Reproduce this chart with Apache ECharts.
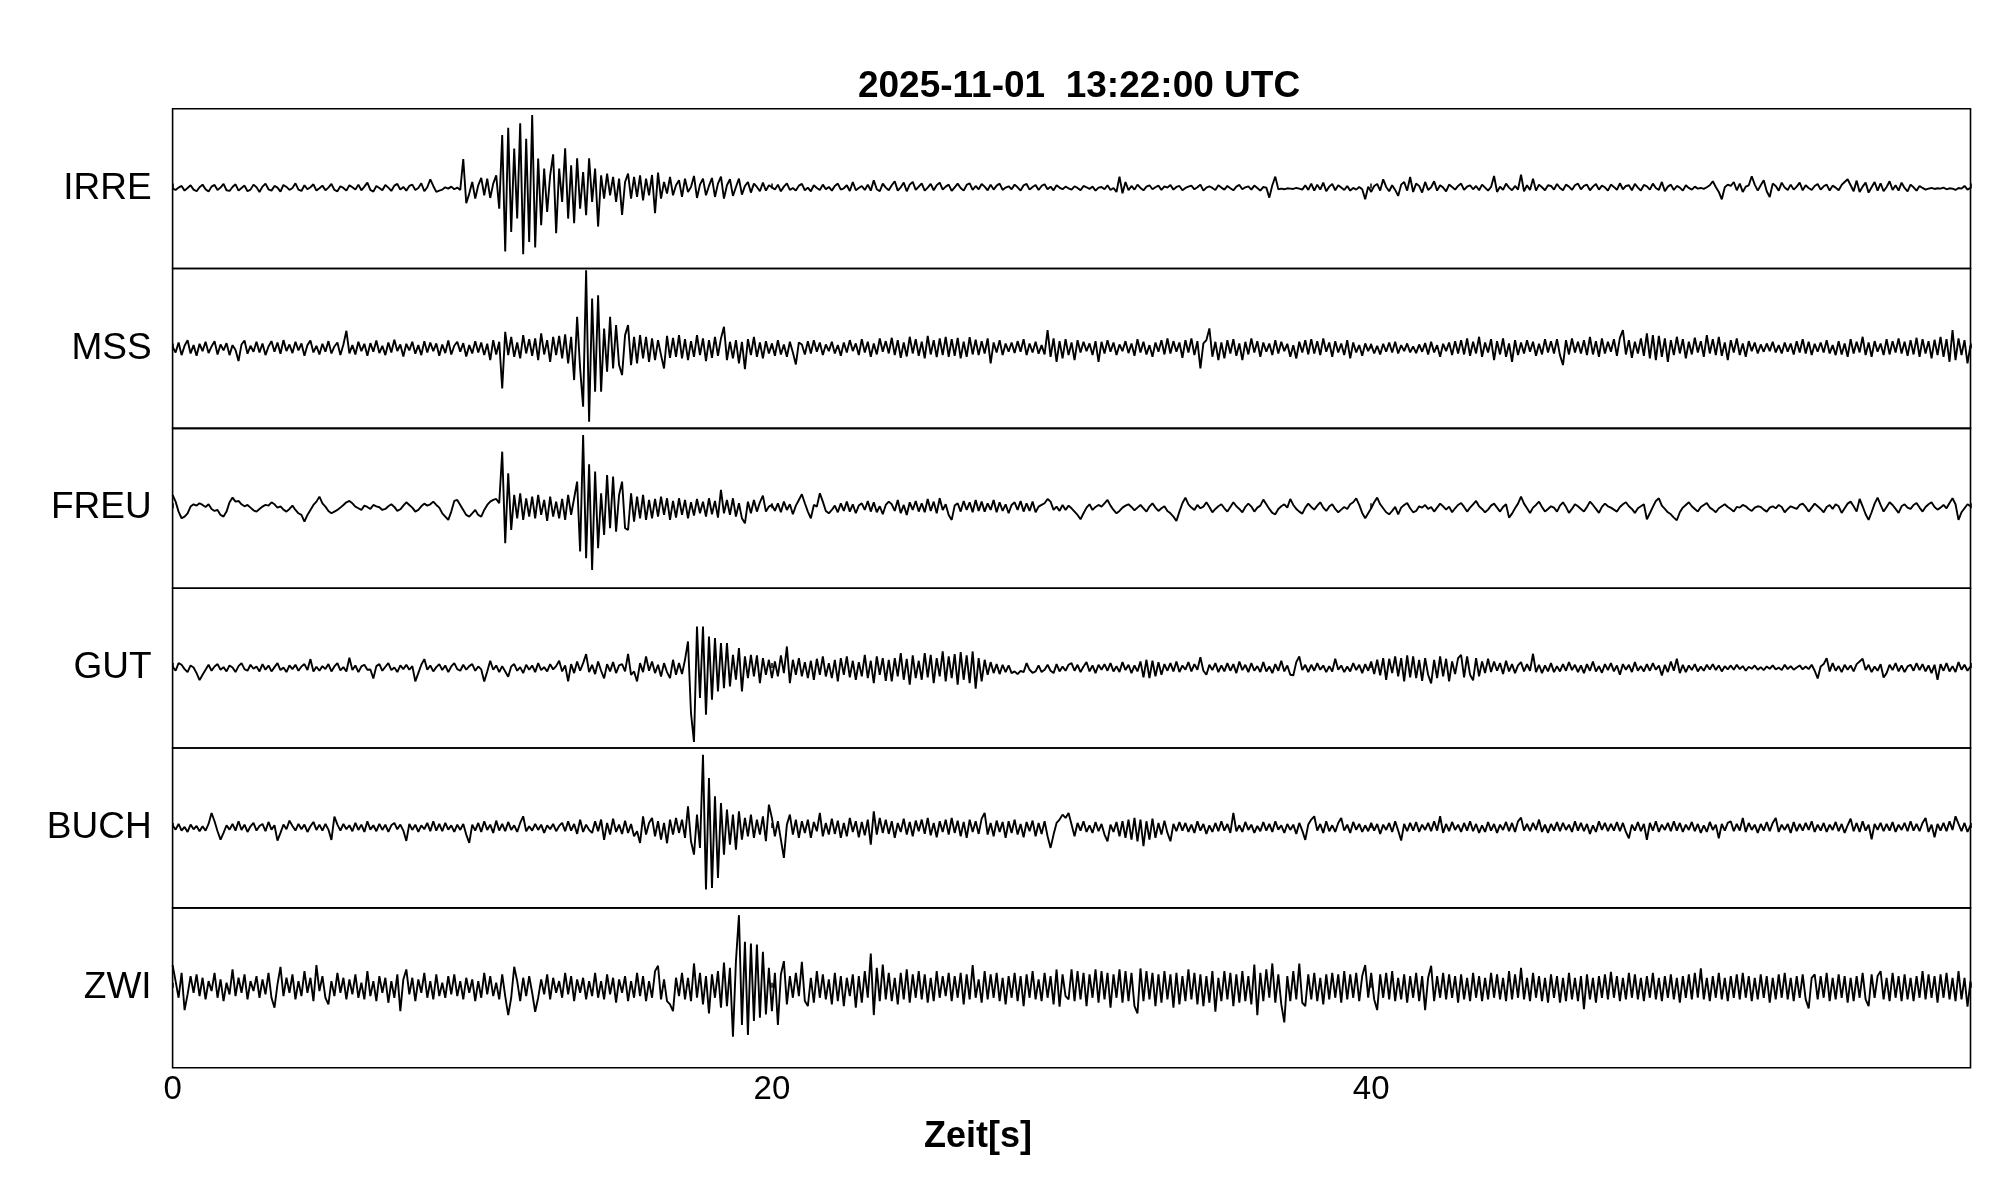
<!DOCTYPE html>
<html><head><meta charset="utf-8">
<script src="https://cdn.jsdelivr.net/npm/echarts@6/dist/echarts.min.js"></script>
<style>html,body{margin:0;padding:0;background:#fff}#c{width:2005px;height:1202px}</style>
</head><body><div id="c"></div>
<script>
const TITLE = '2025-11-01  13:22:00 UTC';
const X_NAME = 'Zeit[s]';
const STATIONS = ['IRRE', 'MSS', 'FREU', 'GUT', 'BUCH', 'ZWI'];
const SAMPLE_INTERVAL = 0.1; // seconds between samples
const X_TICKS = [0, 20, 40];

const IRRE = [
0,-4,3,8,-6,2,10,-3,-8,4,
12,-2,-9,6,11,-4,3,14,-5,-7,
5,13,-6,2,9,-8,-3,12,4,-10,
6,15,-2,-6,8,3,-9,11,5,-4,
2,16,-3,-7,10,-2,4,13,-6,1,
9,-5,3,14,-4,-8,7,2,-6,10,
4,-3,12,-5,6,18,-4,-9,8,2,
-5,11,3,-7,9,14,-3,5,-6,8,
12,-4,2,16,-8,4,28,8,-10,-6,
-3,4,0,6,-2,3,-4,89,-44,-15,
20,-30,10,32,-20,30,-28,15,40,-60,
161,-189,183,-130,120,-90,196,-197,150,-160,
221,-177,90,-110,60,-70,40,103,-134,60,
-40,121,-90,70,-104,91,-60,50,-80,91,
-40,60,-114,40,-30,45,-20,35,-40,30,
-79,20,45,-30,35,-25,40,-35,30,-20,
41,-74,48,-30,20,-15,35,-20,10,25,
-25,30,-10,5,38,-28,12,30,-20,8,
32,-25,15,36,-30,10,28,-22,5,30,
-18,8,20,-12,15,5,-8,18,-6,10,
4,-3,12,-8,6,16,-4,2,-6,9,
14,-5,3,-8,10,2,-4,12,-2,5,
-6,8,15,-3,1,10,-7,20,-5,2,
8,-4,12,-6,25,-2,-8,15,3,-5,
10,22,-6,4,18,-8,12,20,-4,6,
16,-6,3,14,-5,10,18,-3,6,12,
-7,4,15,2,-6,11,16,-4,8,-2,
14,6,-5,12,-3,9,15,-4,3,7,
-2,12,4,-6,10,14,-3,5,11,-4,
8,13,-2,6,-5,10,3,-2,6,1,
-3,7,2,-5,8,4,-1,6,-6,3,
5,-2,10,-4,2,-10,36,-14,20,-5,
8,-3,12,2,-5,6,10,-2,4,9,
-4,7,3,11,-3,5,8,-5,2,6,
9,-2,4,12,-6,3,7,2,-4,10,
3,-3,8,1,-5,6,11,-2,4,7,
-3,9,2,-6,5,3,-27,10,36,-2,
0,-2,1,0,-1,2,0,-3,10,-4,
15,-6,12,-3,18,-8,6,14,-5,10,
3,-4,8,-6,2,-3,5,-2,-32,6,
-10,8,14,-6,28,5,-8,10,-4,-22,
12,20,-6,35,-10,15,8,-12,20,-4,
4,22,-6,10,3,-8,12,5,-3,8,
15,-4,6,10,-2,8,-5,12,3,-6,
5,38,-10,6,-4,15,3,-5,8,-3,
42,-8,10,-4,30,-6,12,4,-5,10,
8,-3,14,2,-5,12,6,-4,10,15,
-2,8,12,-5,6,14,-3,9,4,-6,
12,5,-4,16,-2,8,10,-5,14,3,
-6,11,7,-3,15,2,-4,20,-8,6,
12,-4,8,3,-6,10,2,-3,6,0,
2,-1,4,10,22,5,-10,-32,4,12,
8,20,-5,15,-10,6,10,37,12,-6,
10,25,-8,-25,15,8,-6,18,3,-4,
12,-3,6,18,-5,10,2,-4,8,14,
-3,7,12,-6,9,3,-5,11,20,28,
10,-8,24,-10,6,18,-12,4,20,-6,
16,-8,5,22,-4,10,-6,18,2,-8,
12,4,-6,8,2,-3,0,2,-1,1,
0,3,-2,1,0,-4,2,0,8,-3,
2];

const MSS = [
5,-12,18,-20,8,25,-15,10,-22,14,
-8,20,-14,6,22,-18,12,-6,16,-20,
10,-5,-38,12,24,-16,8,-10,20,-12,
15,-20,6,22,-10,18,-16,25,-8,12,
-14,20,-6,15,-22,10,24,-12,8,-18,
14,-10,22,-15,6,18,-20,12,53,-15,
10,-18,20,-8,14,-22,16,-10,24,-14,
8,-20,18,-12,26,-8,12,-24,14,-6,
20,-16,10,-20,22,-12,18,-8,15,-22,
12,-14,24,-18,8,20,-10,16,-24,10,
-15,22,-12,18,-20,14,-35,25,-18,20,
-120,50,-20,35,-25,18,-30,40,-15,28,
-22,30,-35,45,-18,25,-40,35,-20,38,
-30,42,-45,35,-95,95,-60,-175,235,-220,
150,-130,160,-130,60,-70,95,-60,70,-50,
-80,40,70,-50,35,-45,40,-30,35,-40,
30,-35,25,-20,-60,38,-28,32,-25,40,
-30,28,-35,22,-25,40,-20,30,-38,25,
-28,35,-22,30,65,-35,20,-30,25,-45,
20,-62,28,-20,35,-25,18,-30,22,-15,
15,-22,25,-18,12,-25,20,-12,-48,18,
12,-18,22,-15,25,-10,18,-20,12,-8,
20,-15,10,-22,18,-12,25,-8,15,-20,
28,-12,20,-25,15,-18,30,-10,22,-15,
32,-20,25,-28,18,-24,35,-15,28,-22,
20,-30,38,-18,25,-26,30,-20,35,-25,
28,-22,32,-30,20,-25,34,-18,26,-20,
22,-15,30,-45,18,-12,25,-20,15,-10,
18,-14,22,-10,28,-20,15,-12,20,-16,
10,-18,55,-25,30,-40,22,-30,28,-20,
18,-35,25,-12,20,-8,15,-20,22,-40,
20,-15,25,-10,18,-20,12,-8,22,-14,
15,-22,28,-12,20,-18,10,-25,18,-10,
25,-18,30,-15,22,-10,18,-28,25,-12,
30,-20,22,-60,15,25,60,-25,20,-35,
18,-30,25,-15,28,-22,15,-35,20,-18,
30,-12,22,-25,18,-10,15,-20,25,-15,
20,-8,14,-25,10,-30,20,-12,25,-18,
28,-15,22,-20,30,-10,18,-25,22,-12,
15,-20,25,-30,18,-12,10,-22,15,-8,
12,-15,8,-18,14,-10,18,-12,20,-15,
10,-8,15,-12,6,-14,12,-10,16,-18,
20,-12,10,-25,14,-8,18,-20,22,-15,
25,-18,30,-22,20,-15,35,-25,18,-12,
28,-35,22,-18,30,-25,15,-40,25,-20,
18,-15,25,-10,20,-22,14,-18,28,-12,
22,-15,28,-20,-50,25,-18,30,-12,20,
-15,25,-20,35,-18,22,-25,30,-15,20,
-10,28,-22,32,55,-18,25,-28,20,-15,
30,-22,45,-30,40,-35,38,-25,30,-40,
25,-20,35,-15,28,-30,20,-18,32,-12,
22,-25,40,-15,28,-20,35,-22,18,-35,
25,-12,30,-20,15,-25,22,-8,18,-15,
12,-10,15,-8,20,-12,10,-15,18,-10,
15,-18,22,-12,28,-15,20,-20,14,-10,
18,-12,25,-15,10,-20,22,-18,15,-25,
28,-15,20,-12,35,-20,18,-25,22,-10,
15,-20,28,-18,22,-12,30,-15,20,-22,
25,-18,32,-25,28,-15,22,-30,26,-20,
35,-25,28,-40,55,-35,30,-20,25,-45,
10];

const FREU = [
40,20,-10,-30,-25,-15,5,12,8,15,
10,4,12,-2,-8,-5,-20,-25,-10,18,
32,20,22,12,6,10,2,-6,-10,-2,
5,10,8,18,12,2,6,-4,-10,-2,
8,-5,-15,-20,-40,-20,-5,10,20,35,
15,5,-8,-15,-10,-5,2,10,18,22,
15,5,0,-5,8,4,-2,10,6,3,
-5,-2,6,12,4,-8,-3,8,18,10,
2,-10,-5,6,14,8,12,20,10,2,
-15,-25,-35,-10,22,25,10,-5,-20,-25,
-15,-5,-20,-25,-5,10,20,25,28,15,
170,-105,105,-65,40,-30,45,-35,30,-25,
35,-30,40,-20,25,-38,35,-25,20,-30,
28,-35,40,-20,30,80,-130,220,-150,132,
-185,110,-120,45,-80,100,-60,95,-70,40,
80,-60,-65,45,-40,35,-30,40,-35,25,
-30,28,-25,35,-20,30,-35,22,-28,30,
-20,25,-30,18,-22,28,-15,20,-25,30,
-18,22,-28,55,-15,25,-20,30,-25,15,
-30,-45,20,-15,25,-10,18,38,-10,5,
10,-8,15,-12,20,-5,12,-18,8,25,
42,15,-10,-30,10,5,45,20,-8,-15,
-5,8,-12,15,-8,20,-10,12,-15,8,
15,-5,22,-10,18,-12,6,-18,10,20,
12,-8,25,-15,10,-20,18,-5,22,-10,
15,-12,28,-8,20,-15,30,-5,12,-20,
-35,8,15,-10,22,-5,18,-12,25,-8,
20,-10,15,-5,25,-12,18,-8,12,-15,
10,18,-5,22,-10,15,-8,20,-12,5,
10,15,28,20,-5,5,-8,10,-5,8,
0,-10,-20,-33,-15,2,12,-5,4,10,
5,15,25,8,-5,-15,-8,2,8,12,
4,-6,2,10,0,-10,5,15,2,-8,
0,6,-8,-15,-25,-38,-10,15,32,12,
2,-5,10,0,5,18,4,-12,-2,6,
12,0,-10,4,18,6,-2,-12,4,14,
5,-10,2,8,26,12,-2,-14,-18,-2,
6,12,2,28,10,-2,-10,-16,2,14,
4,-4,8,18,2,-8,5,12,-2,-12,
-4,4,-2,12,18,30,10,-14,-30,-15,
0,18,32,12,0,-12,-18,-8,4,-18,
2,10,16,0,-12,-8,6,2,10,-2,
4,-10,2,14,6,-4,5,-12,0,10,
16,4,-10,2,12,22,6,-2,-12,-4,
8,14,2,-10,4,12,-28,-16,0,14,
35,14,0,-14,2,10,20,4,-10,-2,
6,2,-10,8,18,4,-14,-2,12,6,
-2,-10,4,20,10,-2,-14,4,14,6,
2,-4,-10,4,12,18,6,-2,-14,0,
6,12,-33,-15,4,22,30,8,-2,-12,
-18,-28,-36,-12,2,10,18,6,-2,-10,
4,10,16,2,-4,-12,0,6,12,4,
-2,-10,4,2,10,6,-2,-8,2,6,
4,-4,-10,2,6,0,10,4,-12,-2,
6,2,-2,10,14,4,-10,2,14,6,
-2,-12,4,10,-2,12,6,-14,0,14,
20,6,-10,28,6,-18,-35,-12,14,32,
10,-10,4,18,10,-2,-14,6,12,2,
-2,10,16,2,-10,4,12,18,4,-4,
2,10,0,16,30,12,-35,-12,0,12,
6];

const GUT = [
5,-8,15,10,-3,-12,8,2,-15,-36,
-20,-5,10,-8,5,12,-5,3,-10,8,
2,-12,6,15,-3,-8,10,-2,5,-10,
12,-5,8,-10,3,15,-6,2,-12,8,
-3,10,-8,5,12,-6,27,-10,4,-8,
6,-3,12,-10,5,15,-7,3,-10,31,
-6,8,-12,5,10,-5,-4,-31,6,12,
-8,4,15,-6,2,-12,8,-3,10,-5,
6,-40,-15,10,27,-5,8,-10,3,12,
-6,8,-12,5,15,-3,-8,10,-5,6,
12,-8,5,-4,-40,-10,22,-5,8,-12,
6,-10,-26,5,12,-8,3,-15,10,-5,
8,-12,15,-6,3,-10,12,-4,6,22,
-10,8,-40,12,-15,20,-8,15,42,-12,
10,-18,20,-8,-31,12,-10,18,-15,8,
12,-10,43,-20,-10,-40,15,-12,35,-8,
20,-15,10,-25,15,-12,-30,25,-20,15,
-18,25,80,-135,-222,125,-90,125,-140,95,
-95,90,-70,75,-60,75,-55,40,-35,60,
-70,35,-30,40,-25,38,-45,30,-20,25,
-30,20,-25,38,-15,65,-45,25,-20,30,
-25,18,-30,22,-35,28,-20,35,-25,15,
-30,25,-40,30,-20,35,-28,22,-35,18,
-25,40,-30,22,-45,35,-20,30,-38,25,
-40,30,-25,45,-35,28,-50,38,-30,22,
-35,45,-28,40,-45,30,-25,50,-40,35,
-30,42,-50,48,-35,38,-45,50,-62,30,
-40,25,-20,18,-15,12,-18,10,-12,8,
-15,-10,-18,-8,-12,15,-5,-14,-10,8,
-12,-5,10,-8,-15,12,-10,5,-8,10,
15,-8,10,-12,5,18,-10,8,-15,10,
-5,12,-8,15,-10,6,-12,18,-6,10,
-15,8,-10,20,-28,25,-30,22,-25,18,
-20,12,-8,15,-10,20,-12,8,-5,18,
-10,12,-5,33,-8,-20,10,-6,15,-12,
8,-10,15,-8,12,-15,20,-6,10,-12,
15,-8,6,-12,18,-10,5,-15,12,-8,
22,-10,8,-20,-22,18,35,-6,10,-12,
10,-8,15,-5,8,-12,6,-10,28,-5,
8,-12,5,-10,15,-6,10,-15,12,-8,
20,-18,25,-22,30,-35,28,-15,35,-25,
30,-40,38,-28,35,-30,25,-38,30,-20,
-46,25,-30,35,-25,28,-40,20,-18,30,
40,-28,35,-20,-37,30,-25,20,-15,28,
-12,20,-8,15,-18,22,-10,12,-15,8,
18,-10,12,-8,43,-12,10,-15,8,-10,
15,-12,6,-10,12,-8,18,-6,10,-12,
8,-15,12,-8,20,-10,6,-14,12,-6,
15,-10,8,-20,12,-5,10,-12,18,-8,
6,-10,12,-8,15,-5,8,-22,10,-12,
20,-8,28,-15,10,-12,8,-6,12,-10,
5,-8,10,-4,12,-6,8,-10,6,-4,
8,-5,10,-3,6,-8,4,-2,8,-5,
3,-6,5,-2,8,-4,2,-6,10,-3,
6,-5,2,8,-4,5,-3,10,-8,-31,
5,12,30,-10,15,-8,6,-12,10,-5,
8,-10,12,20,28,-6,10,-12,5,-8,
12,-28,-15,10,-6,15,-10,8,-12,5,
10,-8,15,-6,12,-10,8,-15,10,-35,
12,-8,15,-10,6,-12,18,-5,10,-8,
5];

const BUCH = [
8,-5,12,-8,3,-12,10,-4,6,-10,
5,-8,12,45,20,-10,-35,-15,8,-5,
12,-8,20,-6,10,-12,5,15,-8,6,
12,-10,18,-5,8,-38,-15,10,-4,22,
6,-8,12,-4,10,-12,5,18,-6,10,
-8,12,-5,-36,34,10,-8,12,-4,8,
-10,15,-6,10,-12,20,-5,8,-10,12,
-6,10,-12,8,15,-4,10,-8,-39,12,
-6,10,-12,8,-4,15,-10,20,-8,12,
-10,15,-5,8,-12,10,-6,12,-20,-45,
10,-8,15,-12,20,-6,10,-15,22,-8,
12,-10,18,-6,8,-12,15,35,-10,5,
-8,12,-6,10,-15,8,-4,12,-10,6,
15,-10,20,-8,12,-18,25,-12,10,-6,
-15,20,-10,25,-36,15,-20,28,-12,10,
-18,22,-15,12,-25,-10,-45,35,-20,15,
30,-25,20,-35,15,-46,25,-20,30,-15,
25,-30,65,-40,-80,40,-60,220,-185,150,
-180,95,-150,75,-80,55,-50,40,-65,50,
-35,30,-25,40,-30,25,-20,35,-40,70,
30,-25,20,-35,-90,10,40,-20,25,-30,
20,-15,25,-30,18,-10,45,-25,15,-20,
28,-18,22,-30,15,-25,30,-12,20,-28,
18,-22,25,-50,50,-20,30,-15,25,-18,
20,-30,15,-12,28,-20,18,-25,22,-10,
25,-18,30,-22,15,-28,20,-12,25,-20,
30,-15,22,-25,18,-30,25,-12,20,-18,
28,45,-20,15,-25,22,-12,18,-30,20,
-15,25,-20,12,-28,18,-10,22,-25,15,
-18,20,-25,-60,-20,15,25,40,30,45,
10,-25,15,-8,20,-12,8,-15,18,-10,
12,-20,-40,10,-12,18,-25,20,-30,25,
-35,30,-40,25,-55,20,-35,28,-30,15,
-20,22,-15,-40,12,-10,18,-8,15,-12,
10,-15,20,-8,12,-18,8,-12,15,-10,
20,-8,12,-15,45,-10,8,-12,18,-6,
10,-15,6,-10,18,-8,12,-12,20,-5,
8,-15,12,-6,10,-18,15,-8,-36,10,
25,35,-8,12,-15,20,-10,8,-12,15,
30,-8,10,-15,18,-6,12,-12,8,-10,
15,-8,12,-18,10,-6,15,-12,20,-8,
-38,12,-10,15,-8,18,-12,10,-6,15,
-10,20,-8,35,-15,12,-10,18,-6,10,
-12,15,-8,20,-10,12,-15,8,-12,18,
-8,12,-15,10,-6,18,-10,15,-12,20,
31,-8,12,-10,15,-6,25,-12,10,-15,
12,-8,18,-10,15,-6,10,-12,20,-8,
15,-10,12,-18,8,-12,20,-6,15,-10,
12,-8,18,-10,15,-12,-31,10,-8,18,
-10,12,-36,15,-8,20,-12,10,-6,15,
-10,20,-8,15,-12,10,-6,18,-10,12,
-15,8,-12,18,-6,10,-31,12,-8,15,
20,-10,12,-8,30,-12,15,-6,10,-15,
12,-8,18,-10,15,30,-12,10,-6,12,
-15,18,-10,12,-8,15,-6,20,-12,10,
-8,15,-12,10,-6,18,-10,12,-15,8,
28,-10,15,-12,20,-8,10,-34,12,-6,
15,-10,12,-8,18,-12,10,-6,15,-10,
20,-8,12,-10,15,30,-12,10,-28,12,
-8,15,-10,20,-6,35,12,-10,15,-12,
8];

const ZWI = [
68,20,-30,45,-67,-20,35,-15,40,-25,
30,-35,20,-10,45,-30,25,-40,15,-20,
55,-25,30,-15,40,-35,20,-10,35,-30,
25,-20,45,-30,-60,10,63,-25,30,-15,
40,-35,20,-25,50,-15,30,-40,68,-10,
35,-30,-50,20,-25,45,-15,30,-35,25,
-20,40,-30,15,-35,50,-25,20,-40,35,
-15,30,-45,20,-30,40,-70,25,55,-20,
30,-40,25,-15,45,-30,20,-35,40,-25,
15,-30,35,-20,40,-25,20,-35,30,-15,
25,-40,20,-30,45,-20,35,-25,15,-35,
40,-25,-82,-30,63,20,-40,30,-25,35,
-15,-72,-30,25,-20,40,-35,30,-15,20,
-30,45,-20,35,-40,25,-15,30,-35,20,
-25,45,-30,20,-35,40,-20,30,-45,25,
-15,35,-40,20,-30,45,-25,35,-40,20,
-30,50,66,-35,25,-40,-50,-70,30,-25,
45,-35,30,-40,73,-30,45,-50,35,-77,
40,-30,50,-60,76,-55,60,-147,80,218,
-112,138,-142,133,-100,130,-90,108,-80,60,
-70,45,-112,40,80,-50,35,-30,45,-25,
78,-40,-55,30,-45,50,-30,40,-35,25,
-50,45,-40,35,-55,30,-25,40,-60,35,
-45,50,-30,103,-82,60,-40,70,-35,45,
-40,30,-50,45,-35,55,-45,40,-30,50,
-35,40,-45,30,-40,50,-30,35,-25,45,
-40,35,-30,45,-50,40,-35,68,-30,25,
-45,50,-35,40,-30,45,-40,30,-50,35,
-30,45,-40,35,-55,40,-30,50,-35,25,
-40,45,-30,35,-50,55,-57,40,-25,-35,
55,-40,50,-35,45,-55,40,-30,55,-45,
50,-35,45,-60,40,-30,55,-45,50,-40,
45,-55,-77,58,-40,50,-35,45,-55,40,
-45,50,-35,40,-60,45,-50,35,-40,55,
-35,45,-50,40,-55,35,-45,50,-72,30,
-40,50,-35,45,-55,40,-45,50,-40,35,
-50,70,-82,45,-40,55,-30,73,-45,40,
-50,-104,35,-40,50,-35,73,-45,-55,40,
-35,45,-40,30,-50,40,-35,45,-30,40,
-45,50,-35,40,-30,45,-40,35,68,-30,
45,-35,-67,40,-30,45,-35,50,-40,30,
-35,40,-45,35,-30,45,-40,35,-67,30,
66,-40,35,-30,45,-35,40,-30,35,-45,
40,-35,30,-40,45,-30,35,-40,30,-35,
45,-30,40,-35,30,-40,50,-35,40,-30,
60,-35,30,-40,45,-30,35,-40,30,-45,
40,-30,35,-45,30,-40,45,-35,30,-40,
35,-64,40,-35,30,-45,35,-30,40,-35,
48,-30,35,-40,30,-35,45,-30,40,-35,
30,-40,35,-30,45,-35,30,-40,35,-30,
40,-35,30,-45,35,-30,40,-35,45,-30,
58,-35,30,-40,35,-30,45,-35,30,-40,
35,-30,40,-35,45,-30,35,-40,30,-35,
40,-30,35,-45,30,-35,40,-30,45,-35,
30,-40,35,-30,40,-35,-62,30,40,-35,
35,-30,45,-40,30,-35,40,-30,35,-45,
30,-40,35,-30,45,-35,-55,40,-30,35,
50,-35,30,-40,45,-30,35,-40,40,-35,
30,-40,35,-30,50,-35,40,-30,35,-45,
40,-30,45,-35,30,-40,50,-35,30,-57,
20];

const TRACES = [IRRE, MSS, FREU, GUT, BUCH, ZWI];

const PLOT_LEFT = 172.6, PLOT_WIDTH = 1797.9, PLOT_TOP = 108.7, PANEL_H = 159.83;
const FONT = "'Liberation Sans', Arial, Helvetica, sans-serif";

const grids = [], xAxes = [], yAxes = [], series = [];
STATIONS.forEach((name, i) => {
  const last = i === STATIONS.length - 1;
  grids.push({
    left: PLOT_LEFT, width: PLOT_WIDTH,
    top: PLOT_TOP + i * PANEL_H, height: PANEL_H,
    show: true, borderColor: '#000', borderWidth: 1.6, backgroundColor: 'transparent'
  });
  xAxes.push({
    gridIndex: i, type: 'value', min: 0, max: 60, interval: 20,
    axisLine: { show: false },
    axisTick: { show: true, inside: true, length: 5, lineStyle: { color: '#000', width: 1.5 } },
    splitLine: { show: false },
    axisLabel: {
      show: last, color: '#000', fontSize: 33, fontFamily: FONT, margin: 6,
      formatter: v => (X_TICKS.includes(v) ? String(v) : '')
    }
  });
  yAxes.push({
    gridIndex: i, type: 'value', min: -240, max: 240,
    axisLine: { show: false }, axisTick: { show: false }, axisLabel: { show: false },
    splitLine: { show: false },
    name: name, nameLocation: 'middle', nameRotate: 0, nameGap: 21,
    nameTextStyle: { color: '#000', fontSize: 37, fontFamily: FONT, align: 'right', verticalAlign: 'middle', padding: [6, 0, 0, 0] }
  });
  series.push({
    type: 'line', xAxisIndex: i, yAxisIndex: i,
    data: TRACES[i].map((v, k) => [k * SAMPLE_INTERVAL, v]),
    showSymbol: false, symbol: 'none', silent: true,
    lineStyle: { color: '#000', width: 1.9 }
  });
});

const chart = echarts.init(document.getElementById('c'), null, { renderer: 'canvas' });
chart.setOption({
  animation: false,
  backgroundColor: '#fff',
  grid: grids, xAxis: xAxes, yAxis: yAxes, series: series,
  graphic: [
    { type: 'text', x: 1079, y: 87, style: { text: TITLE, fill: '#000', fontSize: 37, fontWeight: 'bold', fontFamily: FONT, align: 'center', verticalAlign: 'middle' } },
    { type: 'text', x: 978, y: 1137, style: { text: X_NAME, fill: '#000', fontSize: 36, fontWeight: 'bold', fontFamily: FONT, align: 'center', verticalAlign: 'middle' } }
  ]
});
</script>
</body></html>
